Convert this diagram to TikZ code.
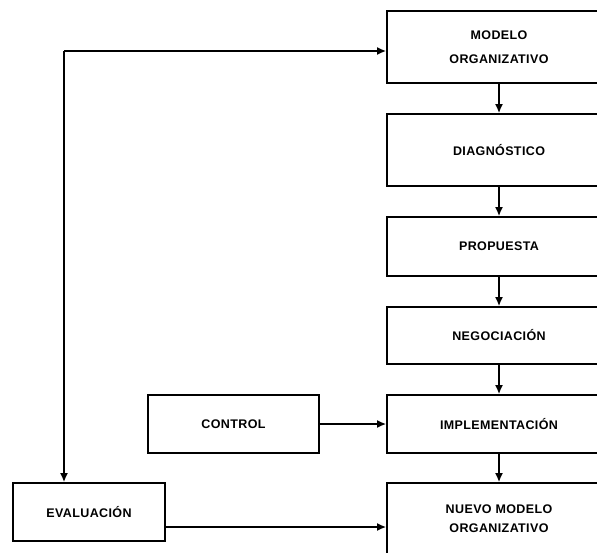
\documentclass[tikz,border=0pt]{standalone}
\usepackage{fontspec}
\setmainfont{Liberation Sans}[LetterSpace=3]
\usetikzlibrary{arrows.meta}

\tikzset{
  caja/.style={draw, line width=1.6pt, inner sep=0pt, align=center,
    font=\fontsize{12.5}{24}\selectfont\bfseries},
  derecha/.style={caja, minimum width=224pt},
  flecha/.style={line width=2pt, -{Latex[length=9pt,width=8pt]}},
}

\begin{document}
\begin{tikzpicture}[x=1pt,y=-1pt]
  \useasboundingbox (0,0) rectangle (597,552);
  \clip (0,0) rectangle (597,552);

  % columna principal
  \node[derecha, minimum height=72pt] (modelo) at (499,47) {MODELO\\ORGANIZATIVO};
  \node[derecha, minimum height=72pt] (diag) at (499,150) {DIAGN\'OSTICO};
  \node[derecha, minimum height=59pt] (prop) at (499,246.5) {PROPUESTA};
  \node[derecha, minimum height=57pt] (nego) at (499,335.5) {NEGOCIACI\'ON};
  \node[derecha, minimum height=58pt] (impl) at (499,424) {IMPLEMENTACI\'ON};
  \node[derecha, minimum height=72pt, font=\fontsize{12.5}{19}\selectfont\bfseries] (nuevo) at (499,519) {NUEVO MODELO\\ORGANIZATIVO};

  % cajas de la izquierda
  \node[caja, minimum width=171pt, minimum height=58pt] (control) at (233.5,424) {CONTROL};
  \node[caja, minimum width=152pt, minimum height=58pt] (eval) at (89,512) {EVALUACI\'ON};

  \draw[flecha] (modelo) -- (diag);
  \draw[flecha] (diag) -- (prop);
  \draw[flecha] (prop) -- (nego);
  \draw[flecha] (nego) -- (impl);
  \draw[flecha] (impl) -- (nuevo);
  \draw[flecha] (control) -- (impl);

  % retroalimentacion
  \coordinate (esquina) at (64,51);
  \draw[flecha] (esquina) -- (esquina -| modelo.west);
  \draw[flecha] (esquina) -- (esquina |- eval.north);
  \draw[flecha] ([yshift=-15pt]eval.east) -- ([yshift=-15pt]eval.east -| nuevo.west);
\end{tikzpicture}
\end{document}
